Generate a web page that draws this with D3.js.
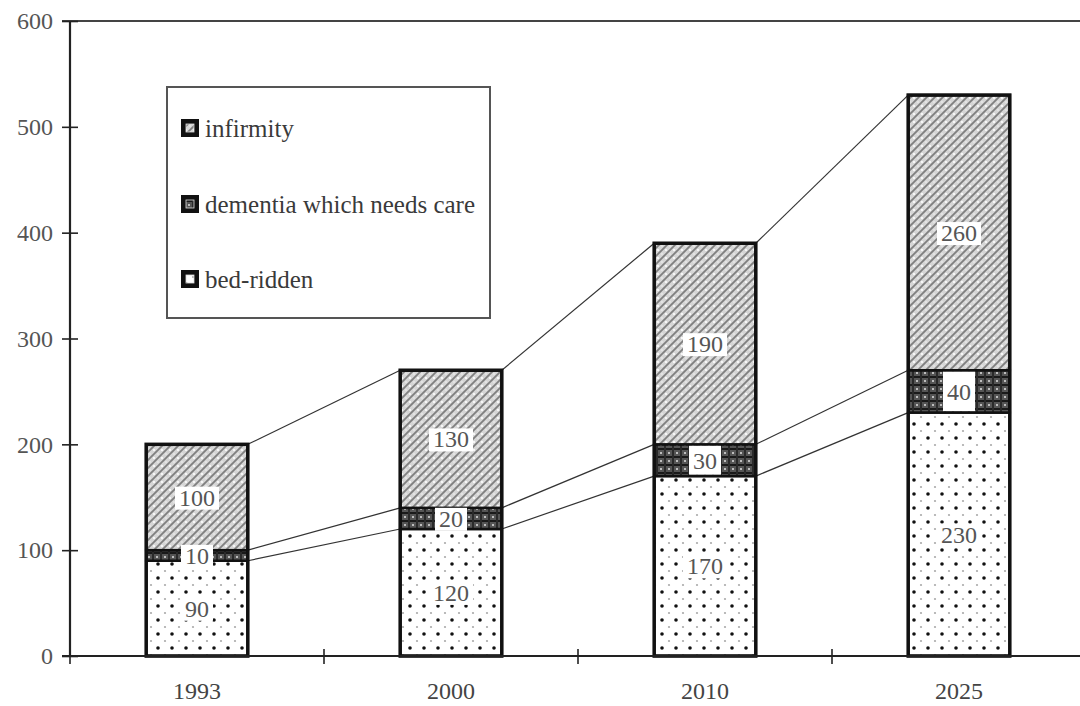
<!DOCTYPE html>
<html><head><meta charset="utf-8">
<script src="https://cdn.jsdelivr.net/npm/d3@7"></script>
<style>
html,body{margin:0;padding:0;background:#fff;}
svg{display:block;font-family:"Liberation Serif","Times New Roman",serif;}
</style></head>
<body><svg id="c" width="1080" height="706"></svg>
<script>
const years = ["1993","2000","2010","2025"];
const bedRidden = [90,120,170,230];
const dementia = [10,20,30,40];
const infirmity = [100,130,190,260];
const yTicks = [0,100,200,300,400,500,600];
const seriesNames = ["bed-ridden","dementia which needs care","infirmity"];

const svg = d3.select("#c");
const W = 1080, H = 706;
const FONT = "Liberation Serif, Times New Roman, serif";
const x = d3.scaleBand().domain(years).range([70,1086]).paddingInner(0.6).paddingOuter(0.3);
const y = d3.scaleLinear().domain([0,600]).range([656,21]);

// patterns
const defs = svg.append("defs");
const pB = defs.append("pattern").attr("id","pBed").attr("patternUnits","userSpaceOnUse").attr("width",14).attr("height",14);
pB.append("rect").attr("width",14).attr("height",14).attr("fill","#fff");
pB.append("circle").attr("cx",4).attr("cy",4).attr("r",1.8).attr("fill","#111");
pB.append("circle").attr("cx",11).attr("cy",11).attr("r",1.1).attr("fill","#aaa");
const pD = defs.append("pattern").attr("id","pDem").attr("patternUnits","userSpaceOnUse").attr("width",8).attr("height",8);
pD.append("rect").attr("width",8).attr("height",8).attr("fill","#555");
pD.append("rect").attr("x",0).attr("y",0).attr("width",8).attr("height",2).attr("fill","#1a1a1a");
pD.append("rect").attr("x",0).attr("y",0).attr("width",2).attr("height",8).attr("fill","#2a2a2a");
pD.append("rect").attr("x",4).attr("y",4).attr("width",2).attr("height",2).attr("fill","#bdbdbd");
const pI = defs.append("pattern").attr("id","pInf").attr("patternUnits","userSpaceOnUse").attr("width",8).attr("height",8);
pI.append("rect").attr("width",8).attr("height",8).attr("fill","#d6d6d6");
pI.append("path").attr("d","M-1,9 L9,-1 M-2,2 L2,-2 M6,10 L10,6").attr("stroke","#7f7f7f").attr("stroke-width",1.8);
pI.append("circle").attr("cx",2).attr("cy",2).attr("r",1.1).attr("fill","#fff");
pI.append("circle").attr("cx",6).attr("cy",6).attr("r",0.8).attr("fill","#f4f4f4");

// stack
const rows = years.map((yr,i)=>({year:yr, b:bedRidden[i], d:dementia[i], f:infirmity[i]}));
const stack = d3.stack().keys(["b","d","f"])(rows);
const fills = {b:"url(#pBed)", d:"url(#pDem)", f:"url(#pInf)"};

// top frame line
svg.append("line").attr("x1",62).attr("x2",W).attr("y1",y(600)).attr("y2",y(600))
  .attr("stroke","#444").attr("stroke-width",2);

// connector lines
const cum = [bedRidden, bedRidden.map((v,i)=>v+dementia[i]), bedRidden.map((v,i)=>v+dementia[i]+infirmity[i])];
cum.forEach(arr=>{
  for(let i=0;i<years.length-1;i++){
    svg.append("line")
      .attr("x1",x(years[i])+x.bandwidth()).attr("y1",y(arr[i]))
      .attr("x2",x(years[i+1])).attr("y2",y(arr[i+1]))
      .attr("stroke","#333").attr("stroke-width",1.2);
  }
});

// bars
stack.forEach(s=>{
  svg.append("g").selectAll("rect").data(s).join("rect")
    .attr("x",d=>x(d.data.year)).attr("width",x.bandwidth())
    .attr("y",d=>y(d[1])).attr("height",d=>y(d[0])-y(d[1]))
    .attr("fill",fills[s.key]).attr("stroke","#111").attr("stroke-width",2.5);
});

// value labels
const lg = svg.append("g");
const boxes = lg.append("g"), texts = lg.append("g");
stack.forEach(s=>{
  s.forEach(d=>{
    const cx = x(d.data.year)+x.bandwidth()/2;
    const cy = (y(d[0])+y(d[1]))/2;
    const val = d[1]-d[0];
    const t = texts.append("text").attr("x",cx).attr("y",cy).attr("dy","0.35em")
      .attr("text-anchor","middle").attr("font-size",24).attr("fill","#555").text(val);
    const bb = t.node().getBBox();
    let top = bb.y+2, bot = bb.y+bb.height-1;
    if (s.key === "d") { top = Math.min(top, y(d[1])+1.5); bot = Math.max(bot, y(d[0])-1.5); }
    boxes.append("rect")
      .attr("x",bb.x-4).attr("y",top).attr("width",bb.width+8).attr("height",bot-top)
      .attr("fill","#fff");
  });
});

// thick outer outline
svg.append("g").selectAll("rect").data(rows).join("rect")
  .attr("x",d=>x(d.year)).attr("width",x.bandwidth())
  .attr("y",d=>y(d.b+d.d+d.f)).attr("height",d=>y(0)-y(d.b+d.d+d.f))
  .attr("fill","none").attr("stroke","#111").attr("stroke-width",3.5);

// y axis
const ya = svg.append("g").attr("transform","translate(70,0)")
  .call(d3.axisLeft(y).tickValues(yTicks).tickSize(8).tickPadding(8));
ya.select(".domain").attr("stroke","#222").attr("stroke-width",2.2).attr("d",`M0,${y(600)}V${y(0)}`);
ya.selectAll(".tick line").attr("x1",-8).attr("x2",8).attr("stroke","#222").attr("stroke-width",1.6);
ya.selectAll(".tick text").attr("font-size",24).attr("fill","#555")
  .attr("font-family",FONT).attr("x",-17);

// x axis
const xa = svg.append("g").attr("transform",`translate(0,${y(0)})`)
  .call(d3.axisBottom(x).tickSize(0).tickPadding(26));
xa.select(".domain").attr("stroke","#222").attr("stroke-width",2.2).attr("d",`M62,0H${W}`);
xa.selectAll(".tick text").attr("font-size",24).attr("fill","#444")
  .attr("font-family",FONT);
const gap = (x.step()-x.bandwidth())/2;
xa.append("g").selectAll("line").data(years).join("line")
  .attr("x1",d=>x(d)-gap).attr("x2",d=>x(d)-gap).attr("y1",-7).attr("y2",8)
  .attr("stroke","#222").attr("stroke-width",1.6);

// legend
const leg = svg.append("g");
leg.append("rect").attr("x",167).attr("y",87).attr("width",323).attr("height",231)
  .attr("fill","#fff").attr("stroke","#555").attr("stroke-width",2);
const legItems = [
  {name:seriesNames[2], fill:"url(#pInf)", cy:128},
  {name:seriesNames[1], fill:"url(#pDem)", cy:204},
  {name:seriesNames[0], fill:"url(#pBed)", cy:279}
];
legItems.forEach(it=>{
  leg.append("rect").attr("x",181).attr("y",it.cy-9).attr("width",18).attr("height",18).attr("fill","#111");
  leg.append("rect").attr("x",186).attr("y",it.cy-4).attr("width",8).attr("height",8).attr("fill",it.fill).attr("stroke","#ddd").attr("stroke-width",0.8);
  leg.append("text").attr("x",205).attr("y",it.cy).attr("dy","0.35em")
    .attr("font-size",25).attr("fill","#3a3a3a").text(it.name);
});
</script></body></html>
